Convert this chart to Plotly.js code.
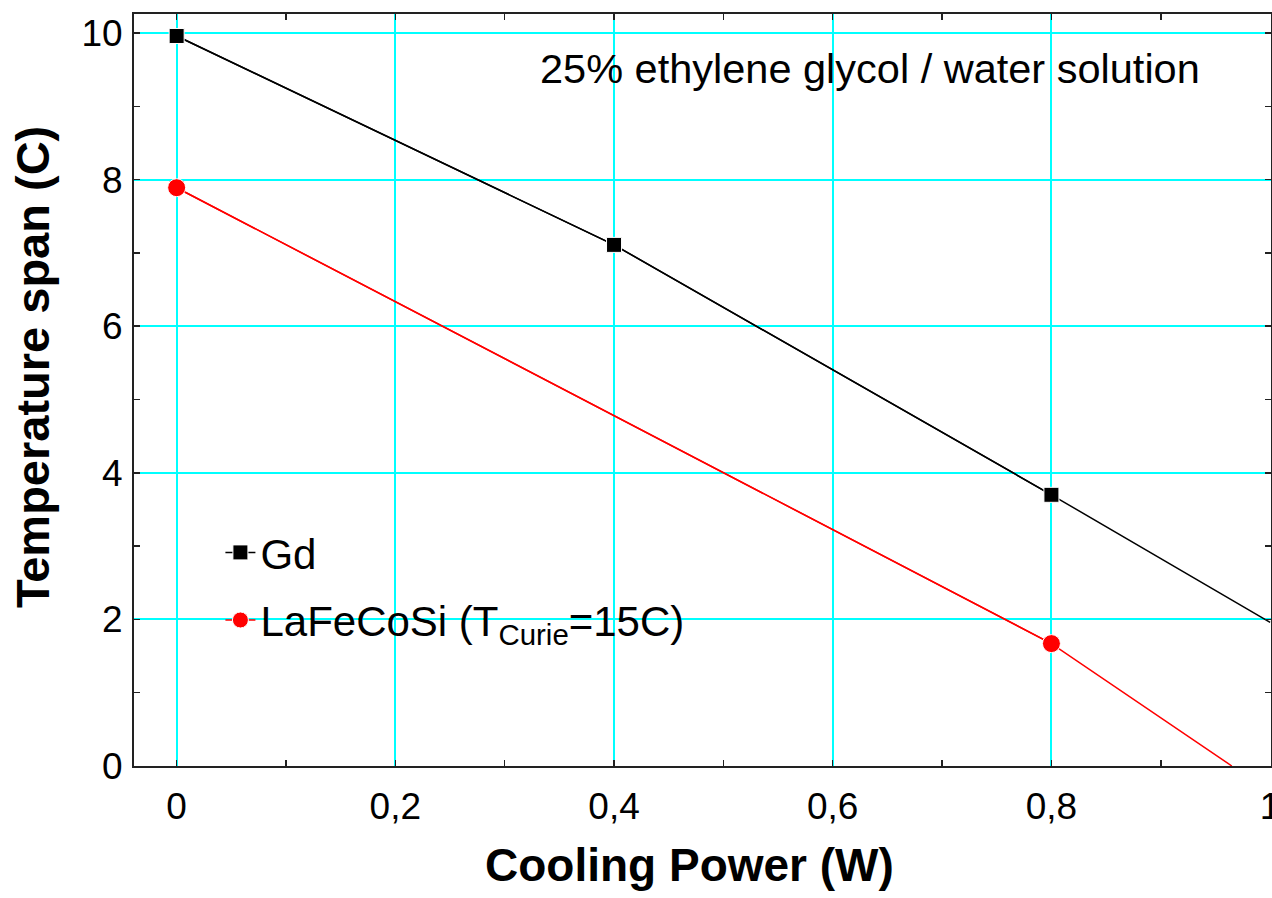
<!DOCTYPE html>
<html>
<head>
<meta charset="utf-8">
<script src="https://cdn.plot.ly/plotly-3.0.1.min.js"></script>
<style>html,body{margin:0;padding:0;background:#fff;}#chart{width:1272px;height:898px;}</style>
</head>
<body>
<div id="chart"></div>
<script>
// Measured points
const gdPower = [0, 0.4, 0.8];
const gdSpan = [9.96, 7.11, 3.70];
const lfcsPower = [0, 0.8];
const lfcsSpan = [7.89, 1.67];
// Connecting / extrapolated lines as drawn in the figure
const gdLinePower = [0, 0.4, 0.8, 1.0];
const gdLineSpan = [9.96, 7.11, 3.70, 1.96];
const lfcsLinePower = [0, 0.8, 0.965];
const lfcsLineSpan = [7.89, 1.67, 0];

const xTickVals = [0, 0.2, 0.4, 0.6, 0.8, 1];
const yTickVals = [0, 2, 4, 6, 8, 10];

const FONT = 'Liberation Sans, Arial, sans-serif';

const traces = [
  {x: gdLinePower, y: gdLineSpan, mode: 'lines', line: {color: '#000', width: 1.5}, showlegend: false, hoverinfo: 'skip'},
  {x: lfcsLinePower, y: lfcsLineSpan, mode: 'lines', line: {color: '#ff0000', width: 1.5}, showlegend: false, hoverinfo: 'skip'},
  {x: gdPower, y: gdSpan, mode: 'lines+markers', name: 'Gd', legendgroup: 'a',
   line: {color: '#000', width: 1.5, dash: 'solid'},
   marker: {symbol: 'square', size: 15, color: '#000', line: {color: '#fff', width: 1}}},
  {x: lfcsPower, y: lfcsSpan, mode: 'lines+markers', name: 'LaFeCoSi (T<sub>Curie</sub>=15C)', legendgroup: 'b',
   line: {color: '#ff0000', width: 1.5},
   marker: {symbol: 'circle', size: 18, color: '#ff0000', line: {color: '#fff', width: 1}}}
];

const layout = {
  width: 1272, height: 898,
  margin: {l: 134, r: 1, t: 14, b: 132},
  paper_bgcolor: '#fff', plot_bgcolor: '#fff',
  separators: ',.',
  font: {family: FONT, color: '#000'},
  showlegend: true,
  legend: {x: 0.076, y: 0.329, xanchor: 'left', yanchor: 'top', bgcolor: 'rgba(0,0,0,0)',
           font: {family: FONT, size: 42, color: '#000'}, tracegroupgap: 10, traceorder: 'grouped'},
  xaxis: {
    range: [-0.039, 1.0008], tickvals: xTickVals, ticktext: xTickVals.map(v => String(v).replace('.', ',')),
    showgrid: true, gridcolor: '#00ffff', gridwidth: 2,
    zeroline: false, showline: true, linecolor: '#222', linewidth: 2, mirror: 'ticks',
    ticks: 'inside', ticklen: 6, tickcolor: '#222', tickwidth: 1.5,
    minor: {dtick: 0.1, tick0: 0, ticks: 'inside', ticklen: 6, tickcolor: '#222', tickwidth: 1.5, showgrid: false},
    tickfont: {family: FONT, size: 37, color: '#000'}, ticklabelstandoff: 7, ticklabeloverflow: 'allow'
  },
  yaxis: {
    range: [0, 10.26], tickvals: yTickVals,
    showgrid: true, gridcolor: '#00ffff', gridwidth: 2,
    zeroline: false, showline: true, linecolor: '#222', linewidth: 2, mirror: 'ticks',
    ticks: 'inside', ticklen: 6, tickcolor: '#222', tickwidth: 1.5,
    minor: {dtick: 1, tick0: 0, ticks: 'inside', ticklen: 6, tickcolor: '#222', tickwidth: 1.5, showgrid: false},
    tickfont: {family: FONT, size: 37, color: '#000'}, ticklabelstandoff: 2
  },
  annotations: [
    {text: '25% ethylene glycol / water solution', xref: 'paper', yref: 'paper', x: 0.647, y: 0.928,
     xanchor: 'center', yanchor: 'middle', showarrow: false, font: {family: FONT, size: 41.5, color: '#000'}},
    {text: '<b>Cooling Power (W)</b>', xref: 'paper', yref: 'paper', x: 0.489, y: -0.1316,
     xanchor: 'center', yanchor: 'middle', showarrow: false, font: {family: FONT, size: 46, color: '#000'}},
    {text: '<b>Temperature span (C)</b>', xref: 'paper', yref: 'paper', x: -0.0888, y: 0.5306,
     xanchor: 'center', yanchor: 'middle', textangle: -90, showarrow: false, font: {family: FONT, size: 47, color: '#000'}}
  ]
};

Plotly.newPlot('chart', traces, layout, {displayModeBar: false, staticPlot: true});
</script>
</body>
</html>
